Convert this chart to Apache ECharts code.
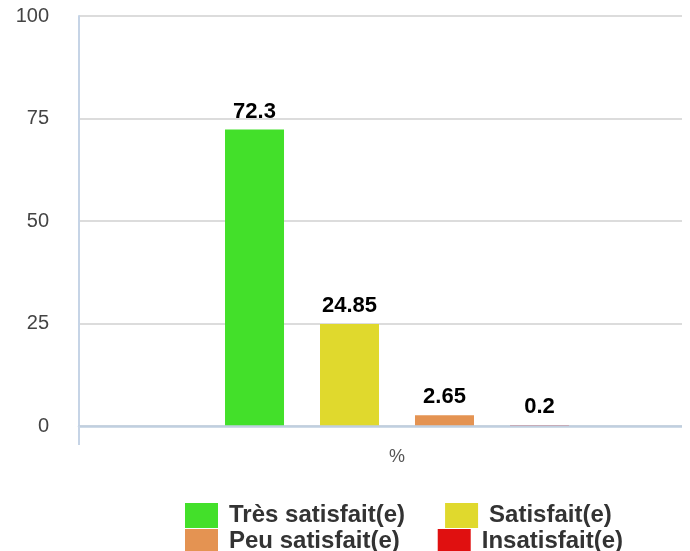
<!DOCTYPE html>
<html>
<head>
<meta charset="utf-8">
<script src="https://cdn.jsdelivr.net/npm/echarts@6/dist/echarts.min.js"></script>
<style>html,body{margin:0;padding:0;background:#fff;overflow:hidden;}#c{width:720px;height:551px;}</style>
</head>
<body>
<div id="c"></div>
<script>
const categories = ['%'];
const seriesNames = ['Très satisfait(e)', 'Satisfait(e)', 'Peu satisfait(e)', 'Insatisfait(e)'];
const seriesValues = [[72.3], [24.85], [2.65], [0.2]];
const seriesColors = ['#43e02a', '#e0d92d', '#e49352', '#e01010'];
const yTicks = [0, 25, 50, 75, 100];

const chart = echarts.init(document.getElementById('c'), null, {renderer: 'canvas'});
const font = 'Liberation Sans, Arial, sans-serif';
const series = seriesNames.map((n, i) => ({
  name: n,
  type: 'bar',
  data: seriesValues[i],
  barWidth: 59,
  barGap: '61%',
  itemStyle: {color: seriesColors[i]},
  label: {
    show: true, position: 'top', distance: 7,
    fontFamily: font, fontWeight: 'bold', fontSize: 22, color: '#000'
  }
}));
const legendText = {fontFamily: font, fontWeight: 'bold', fontSize: 24, color: '#333', padding: [0, 0, 0, 6], lineHeight: 25};
chart.setOption({
  animation: false,
  backgroundColor: '#fff',
  grid: {left: 79, right: 5, top: 16, height: 410, containLabel: false},
  legend: [
    {data: seriesNames.slice(0, 2), left: 185, top: 503, padding: 0, itemGap: 40, itemWidth: 33, itemHeight: 25, icon: 'rect', textStyle: legendText},
    {data: seriesNames.slice(2, 4), left: 185, top: 529, padding: 0, itemGap: 38, itemWidth: 33, itemHeight: 25, icon: 'rect', textStyle: legendText}
  ],
  xAxis: {
    type: 'category', data: categories, z: 5,
    axisLine: {show: true, lineStyle: {color: '#c0cfe0', width: 2.5}},
    axisTick: {show: true, length: 19, lineStyle: {color: '#c6d4e6', width: 2}},
    axisLabel: {fontFamily: font, fontSize: 18, color: '#555', margin: 22}
  },
  yAxis: {
    type: 'value', min: yTicks[0], max: yTicks[yTicks.length - 1], interval: 25,
    axisLine: {show: true, lineStyle: {color: '#c6d4e6', width: 2}},
    axisTick: {show: false},
    splitLine: {lineStyle: {color: '#dcdcdc', width: 2}},
    axisLabel: {fontFamily: font, fontSize: 20, color: '#444', margin: 30, verticalAlign: 'middle', padding: [5, 0, 0, 0]}
  },
  graphic: [{type: 'rect', shape: {x: 682, y: 0, width: 40, height: 452}, style: {fill: '#fff'}, z: 100}],
  series: series
});
</script>
</body>
</html>
